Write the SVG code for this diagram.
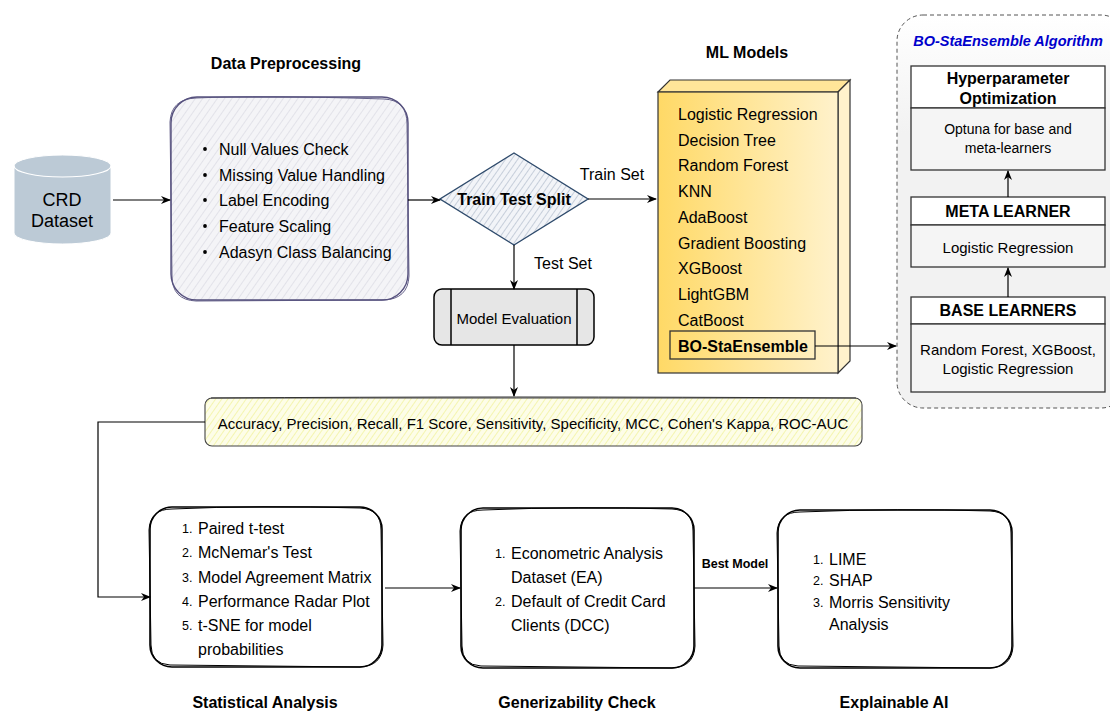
<svg xmlns="http://www.w3.org/2000/svg" width="1110" height="711" viewBox="0 0 1110 711">
<defs>
<marker id="arr" markerWidth="10" markerHeight="10" refX="9" refY="5" orient="auto" markerUnits="userSpaceOnUse">
<path d="M0,1 L10,5 L0,9 L3,5 Z" fill="#000"/>
</marker>
<pattern id="hatchGray" width="6" height="6" patternUnits="userSpaceOnUse" patternTransform="rotate(35)">
<rect width="6" height="6" fill="#f4f4f7"/>
<line x1="0" y1="0" x2="0" y2="6" stroke="#c9c9d4" stroke-width="0.8"/>
</pattern>
<pattern id="hatchBlue" width="5" height="5" patternUnits="userSpaceOnUse" patternTransform="rotate(35)">
<rect width="5" height="5" fill="#f2f4f8"/>
<line x1="0" y1="0" x2="0" y2="5" stroke="#9aa8bd" stroke-width="1"/>
</pattern>
<pattern id="hatchYellow" width="5" height="5" patternUnits="userSpaceOnUse" patternTransform="rotate(35)">
<rect width="5" height="5" fill="#fdfde8"/>
<line x1="0" y1="0" x2="0" y2="5" stroke="#eef08a" stroke-width="1.2"/>
</pattern>
<linearGradient id="gold" x1="0" y1="0" x2="1" y2="0">
<stop offset="0" stop-color="#ffd966"/>
<stop offset="1" stop-color="#fff2cc"/>
</linearGradient>
<linearGradient id="contBg" x1="0" y1="0" x2="0" y2="1">
<stop offset="0" stop-color="#ffffff"/>
<stop offset="0.3" stop-color="#f2f2f2"/>
<stop offset="1" stop-color="#f2f2f2"/>
</linearGradient>
</defs>
<style>
text{font-family:"Liberation Sans",Arial,sans-serif;fill:#000}
.t16{font-size:16px}
.t15{font-size:15px}
.t14{font-size:14px}
.b{font-weight:bold}
.num{font-size:12.5px}
.mid{text-anchor:middle}
.conn{fill:none;stroke:#000;stroke-width:1.2}
.sk{fill:#fff;stroke:#000;stroke-width:1.6}
.sk2{fill:none;stroke:#000;stroke-width:1}
.hdr{fill:#fff;stroke:#333;stroke-width:1.3}
.body{fill:#f5f5f5;stroke:#333;stroke-width:1.3}
</style>

<!-- Titles -->
<text x="286" y="69" class="t16 b mid">Data Preprocessing</text>
<text x="747" y="58" class="t16 b mid">ML Models</text>

<!-- CRD Dataset -->
<g id="crd">
<path d="M14,166 A48.5,11 0 0 1 111,166 L111,233 A48.5,11 0 0 1 14,233 Z" fill="#bccad6" stroke="#ffffff" stroke-width="1"/>
<path d="M14,166 A48.5,11 0 0 0 111,166" fill="none" stroke="#ffffff" stroke-width="1.2"/>
<text x="62" y="206" class="mid" style="font-size:18px">CRD</text>
<text x="62" y="227" class="mid" style="font-size:18px">Dataset</text>
</g>

<!-- Data Preprocessing -->
<g id="preprocessing">
<rect x="171" y="97" width="237" height="203" rx="26" fill="url(#hatchGray)" stroke="#56517e" stroke-width="1.4"/>
<path d="M196,98 Q260,95 384,99 Q407,100 407,124 L409,276 Q408,299 384,300 L196,301 Q172,300 172,276 L170,122 Q171,99 196,98" fill="none" stroke="#56517e" stroke-width="0.9"/>
<g class="t16">
<circle cx="205" cy="149" r="1.9" fill="#000"/><text x="219" y="155">Null Values Check</text>
<circle cx="205" cy="175" r="1.9" fill="#000"/><text x="219" y="181">Missing Value Handling</text>
<circle cx="205" cy="200" r="1.9" fill="#000"/><text x="219" y="206">Label Encoding</text>
<circle cx="205" cy="226" r="1.9" fill="#000"/><text x="219" y="232">Feature Scaling</text>
<circle cx="205" cy="252" r="1.9" fill="#000"/><text x="219" y="258">Adasyn Class Balancing</text>
</g>
</g>

<!-- Train Test Split -->
<g id="split">
<polygon points="514,153 588,199 514,245 440,199" fill="url(#hatchBlue)" stroke="#2f4b6c" stroke-width="1.4"/>
<text x="514" y="205" class="t16 b mid">Train Test Split</text>
</g>

<!-- Model Evaluation -->
<g id="evaluation">
<rect x="434" y="289" width="160" height="56" rx="8" fill="#e6e6e6" stroke="#000" stroke-width="1.5"/>
<line x1="451" y1="289" x2="451" y2="345" stroke="#000" stroke-width="1.5"/>
<line x1="577" y1="289" x2="577" y2="345" stroke="#000" stroke-width="1.5"/>
<text x="514" y="324" class="t15 mid">Model Evaluation</text>
</g>

<!-- ML Models -->
<g id="ml-models">
<path d="M658,92 L670,80 L850,80 L838,92 Z" fill="#ffe599" stroke="#333" stroke-width="1.2"/>
<path d="M838,92 L850,80 L850,361 L838,373 Z" fill="#fff2cc" stroke="#333" stroke-width="1.2"/>
<rect x="658" y="92" width="180" height="281" fill="url(#gold)" stroke="#333" stroke-width="1.2"/>
<g class="t16">
<text x="678" y="120">Logistic Regression</text>
<text x="678" y="146">Decision Tree</text>
<text x="678" y="171">Random Forest</text>
<text x="678" y="197">KNN</text>
<text x="678" y="223">AdaBoost</text>
<text x="678" y="249">Gradient Boosting</text>
<text x="678" y="274">XGBoost</text>
<text x="678" y="300">LightGBM</text>
<text x="678" y="326">CatBoost</text>
</g>
<rect x="670" y="331" width="145" height="28" fill="none" stroke="#333" stroke-width="1.3"/>
<text x="678" y="352" class="t16 b">BO-StaEnsemble</text>
</g>

<!-- BO-StaEnsemble Algorithm container -->
<g id="bo-container">
<rect x="897" y="15" width="230" height="393" rx="26" fill="url(#contBg)" stroke="#555" stroke-width="1" stroke-dasharray="4,3"/>
<text x="1008" y="46" class="b mid" style="font-size:14.5px;font-style:italic;fill:#0000cc">BO-StaEnsemble Algorithm</text>
</g>

<g id="hyperparameter">
<rect x="911" y="66" width="194" height="42" class="hdr"/>
<rect x="911" y="108" width="194" height="62" class="body"/>
<text x="1008" y="84" class="t16 b mid">Hyperparameter</text>
<text x="1008" y="104" class="t16 b mid">Optimization</text>
<text x="1008" y="134" class="t14 mid">Optuna for base and</text>
<text x="1008" y="153" class="t14 mid">meta-learners</text>
</g>

<g id="meta-learner">
<rect x="911" y="197" width="194" height="28" class="hdr"/>
<rect x="911" y="225" width="194" height="42" class="body"/>
<text x="1008" y="217" class="t16 b mid">META LEARNER</text>
<text x="1008" y="253" class="t15 mid">Logistic Regression</text>
</g>

<g id="base-learners">
<rect x="911" y="297" width="194" height="27" class="hdr"/>
<rect x="911" y="324" width="194" height="68" class="body"/>
<text x="1008" y="316" class="t16 b mid">BASE LEARNERS</text>
<text x="1008" y="355" class="t15 mid">Random Forest, XGBoost,</text>
<text x="1008" y="374" class="t15 mid">Logistic Regression</text>
</g>

<!-- Metrics bar -->
<g id="metrics">
<rect x="205" y="398" width="657" height="48" rx="7" fill="url(#hatchYellow)" stroke="#444" stroke-width="1.1"/>
<path d="M211,398 Q500,396 856,398" fill="none" stroke="#333" stroke-width="1"/>
<text x="533" y="429" class="t15 mid">Accuracy, Precision, Recall, F1 Score, Sensitivity, Specificity, MCC, Cohen's Kappa, ROC-AUC</text>
</g>

<!-- Statistical Analysis -->
<g id="statistical">
<rect x="150" y="507" width="232" height="160" rx="22" class="sk"/>
<path d="M172,509 Q260,505 360,508 Q381,509 381,530 L383,645 Q382,666 360,667 L170,665 Q151,664 151,645 L149,530 Q150,509 172,509" class="sk2"/>
<text x="182" y="533" class="num">1.</text><text x="198" y="534" class="t16">Paired t-test</text>
<text x="182" y="557" class="num">2.</text><text x="198" y="558" class="t16">McNemar's Test</text>
<text x="182" y="582" class="num">3.</text><text x="198" y="583" class="t16">Model Agreement Matrix</text>
<text x="182" y="606" class="num">4.</text><text x="198" y="607" class="t16">Performance Radar Plot</text>
<text x="182" y="630" class="num">5.</text><text x="198" y="631" class="t16">t-SNE for model</text>
<text x="198" y="655" class="t16">probabilities</text>
<text x="265" y="708" class="t16 b mid">Statistical Analysis</text>
</g>

<!-- Generizability Check -->
<g id="generizability">
<rect x="461" y="508" width="233" height="160" rx="22" class="sk"/>
<path d="M483,510 Q580,506 672,509 Q693,510 693,531 L695,646 Q694,667 672,668 L481,666 Q462,665 462,646 L460,531 Q461,510 483,510" class="sk2"/>
<text x="495" y="558" class="num">1.</text><text x="511" y="559" class="t16">Econometric Analysis</text>
<text x="511" y="583" class="t16">Dataset (EA)</text>
<text x="495" y="606" class="num">2.</text><text x="511" y="607" class="t16">Default of Credit Card</text>
<text x="511" y="631" class="t16">Clients (DCC)</text>
<text x="577" y="708" class="t16 b mid">Generizability Check</text>
</g>

<!-- Explainable AI -->
<g id="xai">
<rect x="778" y="510" width="234" height="158" rx="22" class="sk"/>
<path d="M800,512 Q900,508 990,511 Q1011,512 1011,533 L1013,646 Q1012,667 990,668 L798,666 Q779,665 779,646 L777,533 Q778,512 800,512" class="sk2"/>
<text x="813" y="564" class="num">1.</text><text x="829" y="565" class="t16">LIME</text>
<text x="813" y="585" class="num">2.</text><text x="829" y="586" class="t16">SHAP</text>
<text x="813" y="607" class="num">3.</text><text x="829" y="608" class="t16">Morris Sensitivity</text>
<text x="829" y="630" class="t16">Analysis</text>
<text x="894" y="708" class="t16 b mid">Explainable AI</text>
</g>

<!-- Connectors -->
<g id="connectors">
<line x1="113" y1="200" x2="170" y2="200" class="conn" marker-end="url(#arr)"/>
<line x1="408" y1="200" x2="440" y2="200" class="conn" marker-end="url(#arr)"/>
<line x1="588" y1="199" x2="656" y2="199" class="conn" marker-end="url(#arr)"/>
<text x="612" y="180" class="t16 mid">Train Set</text>
<line x1="514" y1="245" x2="514" y2="289" class="conn" marker-end="url(#arr)"/>
<text x="563" y="269" class="t16 mid">Test Set</text>
<line x1="514" y1="345" x2="514" y2="396" class="conn" marker-end="url(#arr)"/>
<line x1="815" y1="346" x2="896" y2="346" class="conn" marker-end="url(#arr)"/>
<line x1="1008" y1="197" x2="1008" y2="171" class="conn" marker-end="url(#arr)"/>
<line x1="1008" y1="297" x2="1008" y2="268" class="conn" marker-end="url(#arr)"/>
<polyline points="205,422 98,422 98,597 150,597" class="conn" marker-end="url(#arr)"/>
<line x1="385" y1="588" x2="460" y2="588" class="conn" marker-end="url(#arr)"/>
<line x1="694" y1="588" x2="777" y2="588" class="conn" marker-end="url(#arr)"/>
<text x="735" y="568" class="b mid" style="font-size:12.5px">Best Model</text>
</g>
</svg>
